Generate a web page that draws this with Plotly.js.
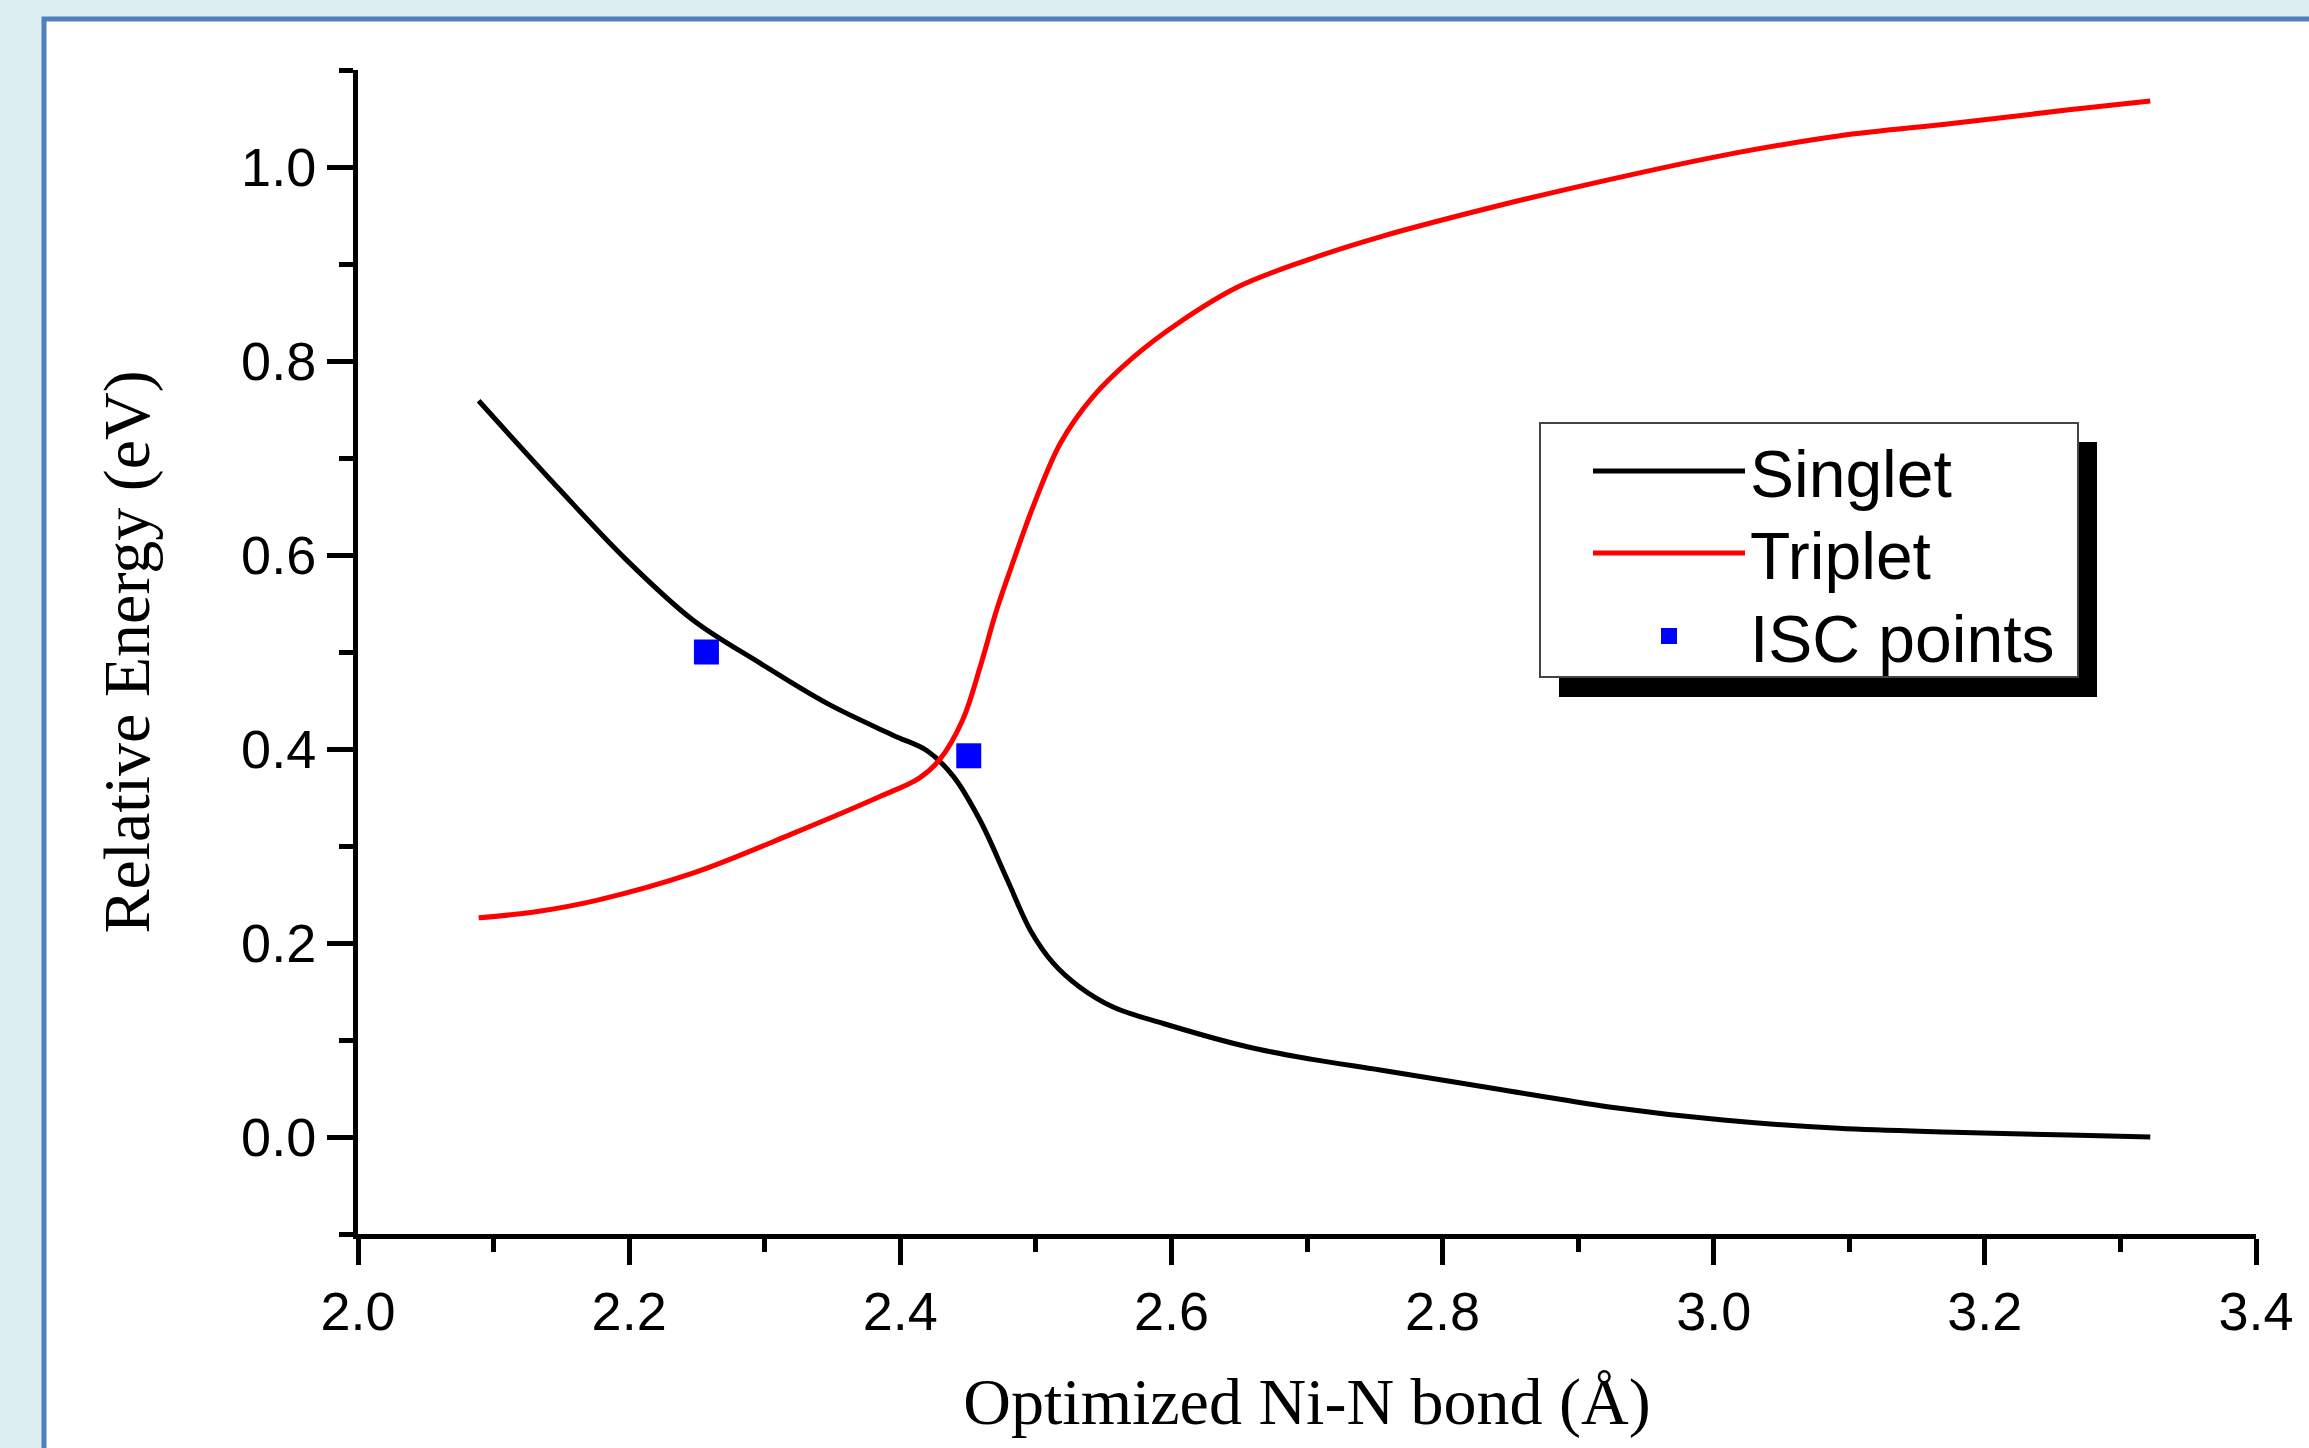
<!DOCTYPE html>
<html>
<head>
<meta charset="utf-8">
<script src="https://cdn.plot.ly/plotly-3.0.1.min.js"></script>
<style>html,body{margin:0;padding:0;background:#ddeef3;}</style>
</head>
<body>
<div id="chart" style="width:2309px;height:1448px;"></div>
<script>
// Singlet curve (Ni-N bond length in Å, relative energy in eV)
const singletX = [2.089, 2.149, 2.198, 2.247, 2.296, 2.346, 2.395, 2.42, 2.439, 2.459, 2.479, 2.496, 2.513, 2.532, 2.557, 2.594, 2.656, 2.704, 2.754, 2.838, 2.923, 3.007, 3.092, 3.177, 3.262, 3.322];
const singletY = [0.759, 0.667, 0.595, 0.533, 0.489, 0.447, 0.414, 0.398, 0.372, 0.326, 0.265, 0.213, 0.179, 0.155, 0.134, 0.117, 0.093, 0.080, 0.069, 0.050, 0.031, 0.0175, 0.009, 0.005, 0.002, 0.0];
// Triplet curve
const tripletX = [2.089, 2.13, 2.176, 2.247, 2.321, 2.385, 2.414, 2.429, 2.446, 2.459, 2.471, 2.483, 2.498, 2.518, 2.542, 2.572, 2.606, 2.65, 2.70, 2.754, 2.838, 2.923, 3.007, 3.092, 3.177, 3.262, 3.322];
const tripletY = [0.226, 0.232, 0.244, 0.272, 0.313, 0.351, 0.370, 0.389, 0.430, 0.485, 0.543, 0.592, 0.650, 0.715, 0.763, 0.804, 0.840, 0.877, 0.904, 0.928, 0.959, 0.987, 1.012, 1.032, 1.045, 1.059, 1.068];
// ISC points
const iscX = [2.257, 2.4505];
const iscY = [0.500, 0.393];

const seriesNames = ["Singlet", "Triplet", "ISC points"];
const xTitle = "Optimized Ni-N bond (Å)";
const yTitle = "Relative Energy (eV)";

const W = 2309, H = 1448;
const L = 358, R = 53, T = 70, B = 214;
const pw = W - L - R, ph = H - T - B;
const px = X => (X - L) / pw;
const py = Y => (H - B - Y) / ph;

const sansFam = "Liberation Sans, Arial, sans-serif";
const tickFont = {family: sansFam, size: 54, color: "#000"};
const titleFont = {family: "Liberation Serif, Times New Roman, serif", size: 66, color: "#000"};
const legendFont = {family: sansFam, size: 66, color: "#000"};

const traces = [
  {x: singletX, y: singletY, name: seriesNames[0], type: "scatter", mode: "lines", legend: "legend",
   line: {color: "#000000", width: 5, shape: "spline", smoothing: 1}},
  {x: tripletX, y: tripletY, name: seriesNames[1], type: "scatter", mode: "lines", legend: "legend2",
   line: {color: "#ff0000", width: 5, shape: "spline", smoothing: 1}},
  {x: iscX, y: iscY, name: seriesNames[2], type: "scatter", mode: "markers", legend: "legend3",
   marker: {symbol: "square", size: 25, color: "#0000ff", line: {width: 0}}}
];

const axisCommon = {
  showgrid: false, zeroline: false, showline: true, linecolor: "#000", linewidth: 5,
  ticks: "outside", ticklen: 26, tickwidth: 5, tickcolor: "#000",
  tickfont: tickFont, mirror: false
};

function legendAt(centerY) {
  return {
    x: px(1588), y: py(centerY), xanchor: "left", yanchor: "middle",
    bgcolor: "rgba(0,0,0,0)", borderwidth: 0,
    font: legendFont, itemwidth: 152
  };
}

const layout = {
  width: W, height: H,
  margin: {l: L, r: R, t: T, b: B},
  paper_bgcolor: "#ddeef3",
  plot_bgcolor: "rgba(0,0,0,0)",
  showlegend: true,
  xaxis: Object.assign({}, axisCommon, {
    range: [2.0, 3.4], tick0: 2.0, dtick: 0.2, tickformat: ".1f",
    minor: {ticks: "outside", dtick: 0.1, tick0: 2.0, ticklen: 13, tickwidth: 5, tickcolor: "#000"},
    title: {text: xTitle, font: titleFont, standoff: 40}
  }),
  yaxis: Object.assign({}, axisCommon, {
    range: [-0.1, 1.1], tick0: 0, dtick: 0.2, tickformat: ".1f",
    minor: {ticks: "outside", dtick: 0.1, tick0: 0, ticklen: 14, tickwidth: 5, tickcolor: "#000"},
    title: {text: yTitle, font: titleFont, standoff: 72}
  }),
  legend: legendAt(471),
  legend2: legendAt(553),
  legend3: legendAt(636),
  shapes: [
    {type: "rect", xref: "paper", yref: "paper", layer: "below",
     x0: px(44), x1: px(2400), y0: py(1500), y1: py(19),
     fillcolor: "#ffffff", line: {color: "#4f81bd", width: 5}},
    {type: "rect", xref: "paper", yref: "paper", layer: "above",
     x0: px(1559), x1: px(2097), y0: py(697), y1: py(442),
     fillcolor: "#000000", line: {width: 0}},
    {type: "rect", xref: "paper", yref: "paper", layer: "above",
     x0: px(1540), x1: px(2078), y0: py(677), y1: py(423),
     fillcolor: "#ffffff", line: {color: "#444444", width: 2}}
  ]
};

Plotly.newPlot("chart", traces, layout, {staticPlot: true, displayModeBar: false});
</script>
</body>
</html>
